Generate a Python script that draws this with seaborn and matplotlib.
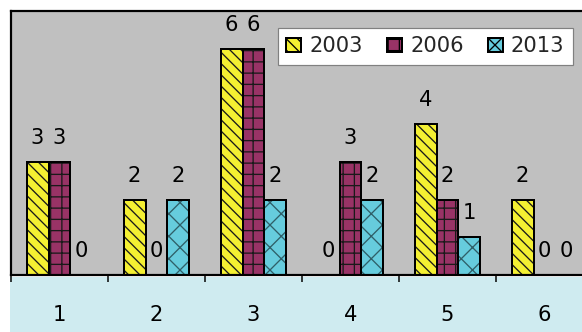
import numpy as np
import pandas as pd
import matplotlib
matplotlib.use("Agg")
import matplotlib.pyplot as plt
from matplotlib.patches import Rectangle, Patch
import seaborn as sns

# ---- data ----
categories = ["1", "2", "3", "4", "5", "6"]
years = ["2003", "2006", "2013"]
v2003 = [3, 2, 6, 0, 4, 2]
v2006 = [3, 0, 6, 3, 2, 0]
v2013 = [0, 2, 2, 2, 1, 0]

# ---- styling ----
face_colors = ["#F4F032", "#993366", "#66CCDD"]
hatch_colors = ["#1a1a1a", "#1a1a1a", "#2f5f68"]
hatches = ["\\\\\\\\", "++", "xx"]

DPI = 135
W, H = 582, 332


def px(p):
    """pixels -> points"""
    return p * 72 / DPI


fs = px(21)

sns.set_theme(style="white")
plt.rcParams["font.family"] = ["DejaVu Sans"]
plt.rcParams["hatch.linewidth"] = 0.7

df = pd.DataFrame({
    "group": categories * 3,
    "year": np.repeat(years, len(categories)),
    "value": v2003 + v2006 + v2013,
})

fig = plt.figure(figsize=(W / DPI, H / DPI), dpi=DPI, facecolor="white")
# light band behind the category labels (drawn beneath the axes)
fig.patches.append(Rectangle((10 / W, 0), 1 - 10 / W, 55 / H,
                             transform=fig.transFigure, facecolor="#CFEBF0",
                             edgecolor="none", zorder=-1))

ax = fig.add_axes([11 / W, 57 / H, (593 - 11) / W, 264 / H])
ax.set_facecolor("#C0C0C0")

sns.barplot(data=df, x="group", y="value", hue="year", order=categories,
            hue_order=years, palette=face_colors, width=0.68, gap=0,
            saturation=1, errorbar=None, legend=False, ax=ax)

for i, cont in enumerate(ax.containers):
    for bar in cont:
        bar.set_hatch(hatches[i])
        bar.set_edgecolor(hatch_colors[i])
        bar.set_linewidth(0)
        ax.add_patch(Rectangle(bar.get_xy(), bar.get_width(), bar.get_height(),
                               fill=False, edgecolor="black", linewidth=px(2),
                               zorder=bar.get_zorder() + 0.1))
    ax.bar_label(cont, labels=[str(int(v)) for v in cont.datavalues],
                 padding=px(14), fontsize=fs, color="black")

ax.set_xlim(-0.5, 5.5)
ax.set_ylim(0, 7)
ax.set_xlabel("")
ax.set_ylabel("")
ax.set_yticks([])

ax.set_xticks(np.arange(-0.5, 6, 1))
ax.set_xticklabels([])
ax.set_xticks(range(len(categories)), minor=True)
ax.set_xticklabels(categories, minor=True)
ax.tick_params(axis="x", which="major", direction="out", length=px(7),
               width=px(1.5), color="black", bottom=True)
ax.tick_params(axis="x", which="minor", length=0, pad=px(30),
               labelsize=fs, labelcolor="black", bottom=True)

for side in ["left", "top", "bottom"]:
    ax.spines[side].set_color("black")
    ax.spines[side].set_linewidth(px(2.2))
    ax.spines[side].set_visible(True)
ax.spines["right"].set_visible(False)

handles = [Patch(facecolor=face_colors[i], hatch=hatches[i],
                 edgecolor="black", linewidth=px(2)) for i in range(3)]
leg = fig.legend(handles, years, loc="upper left",
                 bbox_to_anchor=(278 / W, 1 - 28 / H), ncol=3, frameon=True,
                 fancybox=False, fontsize=fs, handlelength=0.7,
                 handleheight=0.7, handletextpad=0.4, columnspacing=1.15,
                 borderpad=0.4, borderaxespad=0)
frame = leg.get_frame()
frame.set_edgecolor("#808080")
frame.set_facecolor("white")
frame.set_alpha(1)
frame.set_linewidth(px(1.2))

fig.savefig("out.png", dpi=DPI)
